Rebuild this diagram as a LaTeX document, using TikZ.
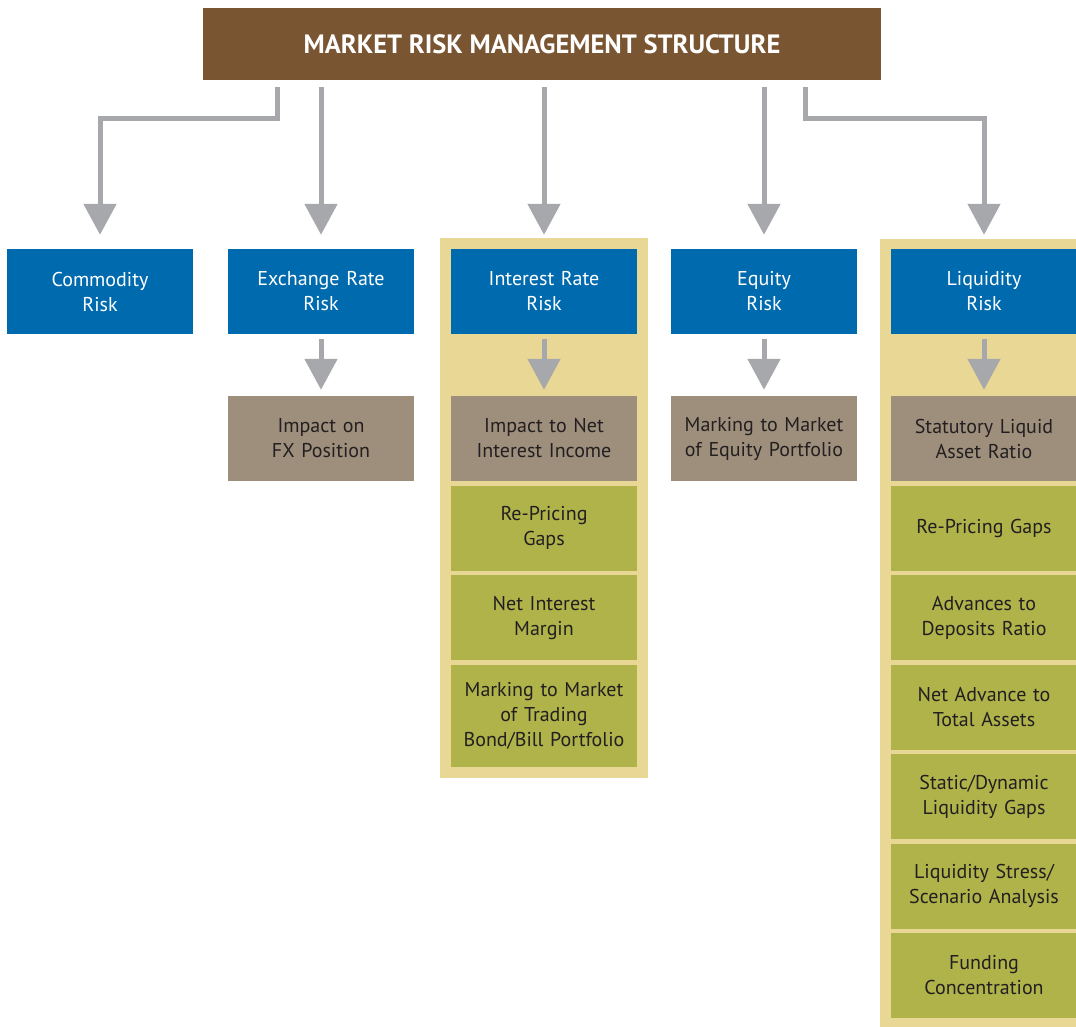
\documentclass[tikz,border=0pt]{standalone}
\usepackage{fontspec}
\setmainfont{PT Sans}
\usetikzlibrary{positioning,arrows.meta,fit,backgrounds}
\definecolor{titlebrown}{HTML}{7A5532}
\definecolor{riskblue}{HTML}{006AAF}
\definecolor{impacttaupe}{HTML}{9E8F7C}
\definecolor{measolive}{HTML}{AFB34A}
\definecolor{bandyellow}{HTML}{E9D795}
\definecolor{arrowgray}{HTML}{A7A8AB}
\definecolor{textblack}{HTML}{231F20}

\begin{document}
\begin{tikzpicture}[x=1pt,y=-1pt,
		box/.style={rectangle,inner sep=0pt,minimum width=186pt,minimum height=85pt,
			text width=182pt,align=center,font=\fontsize{20}{25}\selectfont},
		riskbox/.style={box,fill=riskblue,text=white},
		impactbox/.style={box,fill=impacttaupe,text=textblack},
		measbox/.style={box,fill=measolive,text=textblack},
		band/.style={rectangle,fill=bandyellow,inner sep=0pt},
		arr/.style={draw=arrowgray,line width=5pt,
			-{Triangle[width=32pt,length=31pt]}}]
				\useasboundingbox (0,0) rectangle (1076,1026);
				% heading
				\node[rectangle,fill=titlebrown,minimum width=678pt,minimum height=72pt,
					text=white,font=\fontsize{26.5}{30}\selectfont\bfseries] (title) at (542,44)
					{MARKET RISK MANAGEMENT STRUCTURE};
				% risk types
				\node[riskbox] (comm) at (100,291.5) {Commodity\\Risk};
				\node[riskbox] (exch) at (321,291.5) {Exchange Rate\\Risk};
				\node[riskbox] (irr) at (544,291.5) {Interest Rate\\Risk};
				\node[riskbox] (eqr) at (764,291.5) {Equity\\Risk};
				\node[riskbox] (liq) at (984,291.5) {Liquidity\\Risk};
				% impacts
				\node[impactbox] (fx) at (321,438.5) {Impact on\\FX Position};
				\node[impactbox] (nii) at (544,438.5) {Impact to Net\\Interest Income};
				\node[impactbox] (eqp) at (764,438.5) {Marking to Market\\of Equity Portfolio};
				\node[impactbox] (slar) at (984,438.5) {Statutory Liquid\\Asset Ratio};
				% interest rate measures
				\node[measbox,below=4.5pt of nii] (rpgi) {Re-Pricing\\Gaps};
				\node[measbox,below=4pt of rpgi] (nim) {Net Interest\\Margin};
				\node[measbox,below=4pt of nim,minimum height=102pt] (mtm)
					{Marking to Market\\of Trading\\Bond/Bill Portfolio};
				% liquidity measures
				\node[measbox,below=4.5pt of slar] (rpgl) {Re-Pricing Gaps};
				\node[measbox,below=4pt of rpgl] (adr) {Advances to\\Deposits Ratio};
				\node[measbox,below=4pt of adr] (nat) {Net Advance to\\Total Assets};
				\node[measbox,below=4pt of nat] (sdg) {Static/Dynamic\\Liquidity Gaps};
				\node[measbox,below=4pt of sdg] (lss) {Liquidity Stress/\\Scenario Analysis};
				\node[measbox,below=4pt of lss] (fund) {Funding\\Concentration};
				% highlight bands
				\begin{scope}[on background layer]
					\node[band,fit=(irr)(mtm),inner xsep=11pt,inner ysep=11pt] (irrband) {};
					\node[band,fit=(liq)(fund),inner xsep=11pt,inner ysep=10pt] (liqband) {};
				\end{scope}
				% arrows from heading
				\draw[arr] ([xshift=-265pt,yshift=-7pt]title.south) -- ++(0,31) -| ([yshift=14pt]comm.north);
				\draw[arr] ([yshift=-7pt]title.south -| exch.north) -- ([yshift=14pt]exch.north);
				\draw[arr] ([yshift=-7pt]title.south -| irr.north) -- ([yshift=14pt]irr.north);
				\draw[arr] ([yshift=-7pt]title.south -| eqr.north) -- ([yshift=14pt]eqr.north);
				\draw[arr] ([xshift=263pt,yshift=-7pt]title.south) -- ++(0,31) -| ([yshift=14pt]liq.north);
				% arrows to impacts
				\draw[arr] ([yshift=-5pt]exch.south) -- ([yshift=6pt]fx.north);
				\draw[arr] ([yshift=-5pt]irr.south) -- ([yshift=6pt]nii.north);
				\draw[arr] ([yshift=-5pt]eqr.south) -- ([yshift=6pt]eqp.north);
				\draw[arr] ([yshift=-5pt]liq.south) -- ([yshift=6pt]slar.north);
			\end{tikzpicture}
\end{document}
